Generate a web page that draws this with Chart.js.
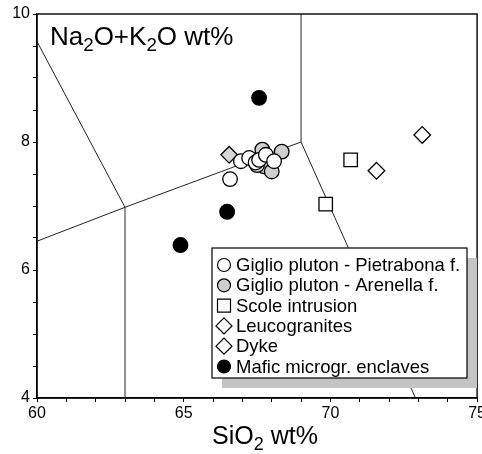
<!DOCTYPE html>
<html>
<head>
<meta charset="utf-8">
<script src="https://cdn.jsdelivr.net/npm/chart.js@4/dist/chart.umd.min.js"></script>
<style>
  html, body { margin: 0; padding: 0; background: #fff; overflow: hidden; }
  /* a bit wider than the window so the last x label is cut at the edge, as in the original */
  #wrap { width: 488px; height: 454px; position: relative; }
</style>
</head>
<body>
<div id="wrap"><canvas id="tas"></canvas></div>
<script>
// x: SiO2 wt%, y: Na2O+K2O wt%
const pietrabona = [[66.58, 7.42], [66.95, 7.70], [67.23, 7.75], [67.45, 7.68], [67.57, 7.72], [67.8, 7.80], [68.08, 7.70]];
const arenella = [[67.68, 7.88], [67.74, 7.62], [68.0, 7.54], [68.34, 7.85], [67.5, 7.64]];
const scole = [[70.69, 7.72], [69.84, 7.03]];
const leucogranites = [[73.13, 8.11], [71.57, 7.55]];
const dyke = [[66.55, 7.80]];
const mafic = [[64.89, 6.39], [66.48, 6.91], [67.57, 8.69]];

// field boundaries of the diagram
const lineA = [[60, 9.57], [63, 6.98]];
const lineB = [[60, 6.45], [63, 6.98], [69, 8.0]];
const lineC = [[63, 4], [63, 6.98]];
const lineD = [[69, 8.0], [69, 10]];
const lineE = [[69, 8.0], [72.9, 4]];

const xTicks = [60, 65, 70, 75];
const yTicks = [4, 6, 8, 10];

const legendNames = ['Giglio pluton - Pietrabona f.', 'Giglio pluton - Arenella f.', 'Scole intrusion', 'Leucogranites', 'Dyke', 'Mafic microgr. enclaves'];

const pts = a => a.map(p => ({x: p[0], y: p[1]}));

function markerSet(label, data, style, fill, radius) {
  return {
    label: label,
    data: pts(data),
    pointStyle: style,
    pointRadius: radius,
    pointHoverRadius: radius,
    pointBackgroundColor: fill,
    pointBorderColor: '#000',
    pointBorderWidth: 1.3,
    showLine: false,
    order: 1
  };
}

function boundary(data, color, width) {
  return {
    data: pts(data),
    showLine: true,
    borderColor: color,
    borderWidth: width,
    pointRadius: 0,
    fill: false,
    order: 5
  };
}

const markers = [
  markerSet(legendNames[0], pietrabona, 'circle', '#fff', 7.3),
  markerSet(legendNames[1], arenella, 'circle', '#d0d0d0', 7.3),
  markerSet(legendNames[2], scole, 'rect', '#fff', 9.5),
  markerSet(legendNames[3], leucogranites, 'rectRot', '#fff', 8.3),
  markerSet(legendNames[4], dyke, 'rectRot', '#d8d8d8', 8.3),
  markerSet(legendNames[5], mafic, 'circle', '#000', 7.3)
];

function drawMarker(ctx, style, fill, x, y, r) {
  ctx.save();
  ctx.fillStyle = fill;
  ctx.strokeStyle = '#000';
  ctx.lineWidth = 1.2;
  ctx.beginPath();
  if (style === 'circle') {
    ctx.arc(x, y, r, 0, Math.PI * 2);
  } else if (style === 'rect') {
    ctx.rect(x - r, y - r, 2 * r, 2 * r);
  } else {
    ctx.moveTo(x - r, y); ctx.lineTo(x, y - r); ctx.lineTo(x + r, y); ctx.lineTo(x, y + r); ctx.closePath();
  }
  ctx.fill();
  ctx.stroke();
  ctx.restore();
}

// text with subscript pieces: [[text, isSub], ...]
function subText(ctx, parts, x, y, size) {
  parts.forEach(p => {
    ctx.font = (p[1] ? size * 0.72 : size) + 'px "Liberation Sans", Arial, sans-serif';
    ctx.fillText(p[0], x, p[1] ? y + size * 0.24 : y);
    x += ctx.measureText(p[0]).width;
  });
}

const decor = {
  id: 'decor',
  afterDatasetsDraw(chart) {
    const ctx = chart.ctx;
    const a = chart.chartArea;
    ctx.save();
    // frame
    ctx.strokeStyle = '#000';
    ctx.lineWidth = 1.4;
    ctx.strokeRect(a.left, a.top, a.right - a.left, a.bottom - a.top);
    ctx.fillStyle = '#000';
    ctx.textBaseline = 'alphabetic';
    subText(ctx, [['Na', 0], ['2', 1], ['O+K', 0], ['2', 1], ['O wt%', 0]], 50, 45, 26);
    subText(ctx, [['SiO', 0], ['2', 1], [' wt%', 0]], 212, 444, 25);

    // legend with shadow
    const lx = 212, ly = 248, lw = 255, lh = 130;
    ctx.fillStyle = '#c4c4c4';
    ctx.fillRect(lx + 10, ly + 10, lw, lh);
    ctx.fillStyle = '#fff';
    ctx.fillRect(lx, ly, lw, lh);
    ctx.strokeStyle = '#000';
    ctx.lineWidth = 1.2;
    ctx.strokeRect(lx, ly, lw, lh);
    const styles = [['circle', '#fff', 6.5], ['circle', '#d0d0d0', 6.5], ['rect', '#fff', 6.5], ['rectRot', '#fff', 8], ['rectRot', '#fff', 8], ['circle', '#000', 6.5]];
    ctx.font = '18.5px "Liberation Sans", Arial, sans-serif';
    ctx.textBaseline = 'middle';
    legendNames.forEach((name, i) => {
      const cy = ly + 17 + i * 20.3;
      drawMarker(ctx, styles[i][0], styles[i][1], lx + 12, cy, styles[i][2]);
      ctx.fillStyle = '#000';
      ctx.fillText(name, lx + 24, cy + 1);
    });
    ctx.restore();
  }
};

new Chart(document.getElementById('tas'), {
  type: 'scatter',
  data: {
    datasets: markers.concat([
      boundary(lineA, '#222', 1),
      boundary(lineB, '#222', 1),
      boundary(lineC, '#777', 1.6),
      boundary(lineD, '#777', 1.6),
      boundary(lineE, '#222', 1)
    ])
  },
  plugins: [decor],
  options: {
    responsive: true,
    maintainAspectRatio: false,
    animation: false,
    layout: { padding: { top: 14, right: 0, left: 0, bottom: 0 } },
    plugins: {
      legend: { display: false },
      tooltip: { enabled: false }
    },
    scales: {
      x: {
        type: 'linear',
        min: 60,
        max: 75,
        afterFit: s => { s.height = 56; },
        ticks: {
          stepSize: 1,
          autoSkip: false,
          maxRotation: 0,
          padding: 2,
          color: '#000',
          font: { size: 16, family: '"Liberation Sans", Arial, sans-serif' },
          callback: v => xTicks.includes(v) ? String(v) : ''
        },
        grid: { drawOnChartArea: false, tickLength: 4, color: '#000', lineWidth: 1 },
        border: { color: '#000', width: 1.4 }
      },
      y: {
        type: 'linear',
        min: 4,
        max: 10,
        afterFit: s => { s.width = 37; },
        ticks: {
          stepSize: 0.5,
          autoSkip: false,
          padding: 3,
          color: '#000',
          font: { size: 16, family: '"Liberation Sans", Arial, sans-serif' },
          callback: v => yTicks.includes(v) ? String(v) : ''
        },
        grid: { drawOnChartArea: false, tickLength: 4, color: '#000', lineWidth: 1 },
        border: { color: '#000', width: 1.4 }
      }
    }
  }
});
</script>
</body>
</html>
